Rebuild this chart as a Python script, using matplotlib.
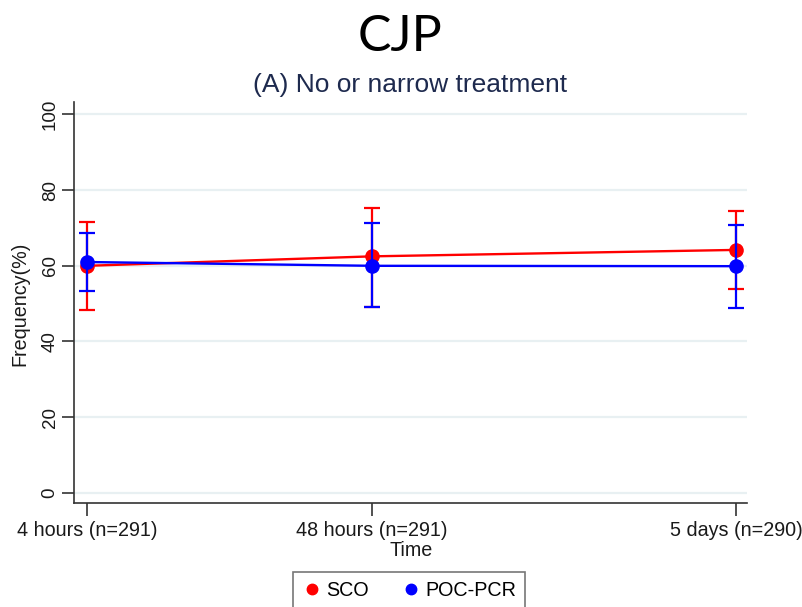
import matplotlib
matplotlib.use("Agg")
import matplotlib.pyplot as plt
from matplotlib.lines import Line2D

# ---- data ----
time_labels = ["4 hours (n=291)", "48 hours (n=291)", "5 days (n=290)"]
x_pos = [0.0, 1.0, 2.277]

sco_mean = [60.0, 62.5, 64.2]
sco_low = [48.4, 49.0, 54.0]
sco_high = [71.7, 75.4, 74.4]

pcr_mean = [61.0, 60.0, 59.9]
pcr_low = [53.4, 49.0, 48.9]
pcr_high = [68.8, 71.2, 70.8]

yticks = [0, 20, 40, 60, 80, 100]

W, H = 802, 607
fig = plt.figure(figsize=(W / 100, H / 100), dpi=100)
fig.patch.set_facecolor("white")

left, right, top, bottom = 74, 747, 102, 503
ax = fig.add_axes([left / W, 1 - bottom / H, (right - left) / W, (bottom - top) / H])

font = ["Liberation Sans", "DejaVu Sans"]
fs = 14.2

for y in yticks:
    ax.axhline(y, color="#e8f0f2", lw=1.6, zorder=0)

def draw(mean, low, high, color, z):
    yerr = [[m - l for m, l in zip(mean, low)], [h - m for h, m in zip(high, mean)]]
    ax.errorbar(x_pos, mean, yerr=yerr, fmt="none", ecolor=color, elinewidth=1.6,
                capsize=6, capthick=1.6, zorder=z)
    ax.plot(x_pos, mean, color=color, lw=1.7, zorder=z)
    ax.plot(x_pos, mean, "o", color=color, ms=9.5, zorder=z + 0.5)

draw(sco_mean, sco_low, sco_high, "#ff0000", 3)
draw(pcr_mean, pcr_low, pcr_high, "#0000ff", 4)

ax.set_xlim(-0.0456, 2.316)
ax.set_ylim(-2.7, 103.3)
ax.set_xticks(x_pos)
ax.set_xticklabels(time_labels, fontsize=fs, fontfamily=font, color="#1a1a1a")
ax.set_yticks(yticks)
ax.set_yticklabels([str(v) for v in yticks], rotation=90, va="center",
                   fontsize=13.5, fontfamily=font, color="#1a1a1a")
ax.tick_params(axis="both", direction="out", length=9, width=1.2, color="#333333", pad=4)
ax.tick_params(axis="y", pad=2)

for s in ["top", "right"]:
    ax.spines[s].set_visible(False)
for s in ["left", "bottom"]:
    ax.spines[s].set_color("#333333")
    ax.spines[s].set_linewidth(1.2)

fig.text(20 / W, 1 - 304 / H, "Frequency(%)", rotation=90, ha="center", va="center",
         fontsize=fs, fontfamily=font, color="#1a1a1a")
fig.text(411 / W, 1 - 550 / H, "Time", ha="center", va="center",
         fontsize=fs, fontfamily=font, color="#1a1a1a")

fig.text(410 / W, 1 - 85 / H, "(A) No or narrow treatment", ha="center", va="center",
         fontsize=19, fontfamily=font, color="#1e2a4e")
fig.text(400 / W, 1 - 37 / H, "CJP", ha="center", va="center",
         fontsize=36, fontfamily=["Lato", "DejaVu Sans"], color="black")

handles = [
    Line2D([], [], marker="o", color="#ff0000", lw=0, ms=7.5, label="SCO"),
    Line2D([], [], marker="o", color="#0000ff", lw=0, ms=7.5, label="POC-PCR"),
]
leg = fig.legend(handles=handles, loc="upper left", bbox_to_anchor=(293 / W, 1 - 572 / H),
                 ncol=2, frameon=True, fancybox=False, edgecolor="#555555",
                 prop={"family": font, "size": fs}, handletextpad=0.25,
                 columnspacing=1.6, borderpad=0.45, handlelength=1.0, borderaxespad=0)
leg.get_frame().set_linewidth(1.2)

fig.savefig("out.png", dpi=100, facecolor="white")
